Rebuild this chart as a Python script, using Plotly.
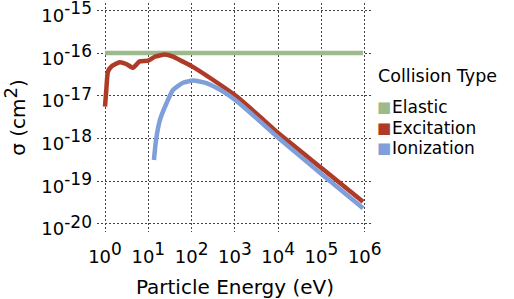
import plotly.graph_objects as go

# ---- data ----
elastic_energy = [1.0, 912000.0]
elastic_sigma = [1.02e-16, 1.02e-16]

excitation_energy = [1.0, 1.07, 1.17, 1.41, 2.19, 3.09, 4.47, 5.25, 6.31, 10.0, 14.1,
                     24.0, 37.2, 56.2, 100.0, 309.0, 1000.0, 3467.0, 10000.0,
                     100000.0, 912000.0]
excitation_sigma = [5.62e-18, 1.38e-17, 3.72e-17, 4.90e-17, 6.17e-17, 5.62e-17, 4.57e-17,
                    5.37e-17, 6.46e-17, 6.76e-17, 8.32e-17, 9.33e-17, 8.32e-17,
                    6.76e-17, 5.01e-17, 2.40e-17, 1.05e-17, 3.55e-18, 1.35e-18,
                    2.04e-19, 3.31e-20]

ionization_energy = [13.5, 15.1, 18.6, 26.3, 37.2, 63.1, 107.0, 219.0, 537.0, 1000.0,
                     3467.0, 10000.0, 100000.0, 912000.0]
ionization_sigma = [3.16e-19, 9.33e-19, 2.75e-18, 6.76e-18, 1.38e-17, 2.04e-17, 2.29e-17,
                    2.00e-17, 1.26e-17, 8.13e-18, 2.75e-18, 1.05e-18, 1.48e-19, 2.34e-20]

series_names = ["Elastic", "Excitation", "Ionization"]
series_colors = ["#9dba8c", "#ae3b27", "#7f9fda"]
legend_title = "Collision Type"

y_tickvals = [1e-20, 1e-19, 1e-18, 1e-17, 1e-16, 1e-15]
y_exponents = ["-20", "-19", "-18", "-17", "-16", "-15"]
x_tickvals = [1, 10, 100, 1000, 10000, 100000, 1000000]
x_exponents = ["0", "1", "2", "3", "4", "5", "6"]

FONT = "DejaVu Sans"
SUP = "10<sup><span style='font-size:17px'>%s</span></sup>"

W, H = 514, 299
ML, MR, MT, MB = 97, 141, 3, 67
PW, PH = W - ML - MR, H - MT - MB


def px(x):
    return (x - ML) / PW


def py(y):
    return 1 - (y - MT) / PH


fig = go.Figure()
data = [(elastic_energy, elastic_sigma), (excitation_energy, excitation_sigma),
        (ionization_energy, ionization_sigma)]
for (xs, ys), name, col in zip(data, series_names, series_colors):
    fig.add_trace(go.Scatter(x=xs, y=ys, mode="lines", name=name, showlegend=False,
                             line=dict(color=col, width=4.5, shape="spline", smoothing=0.5)))

grid = dict(showgrid=True, gridcolor="#444444", gridwidth=1, griddash="2px,2px",
            zeroline=False, showline=False, ticks="", automargin=False,
            ticklabeloverflow="allow")
fig.update_xaxes(type="log", range=[-0.185, 6.19], tickvals=x_tickvals,
                 ticktext=[SUP % e for e in x_exponents],
                 tickfont=dict(family=FONT, size=18, color="black"), ticklabelstandoff=12,
                 title=dict(text="Particle Energy (eV)", font=dict(family=FONT, size=20, color="black"),
                            standoff=18),
                 **grid)
fig.update_yaxes(type="log", range=[-20.19, -14.82], tickvals=y_tickvals,
                 ticktext=[SUP % e for e in y_exponents],
                 tickfont=dict(family=FONT, size=18, color="black"), ticklabelstandoff=4,
                 ticklabelshift=5,
                 title=dict(text="σ (cm<sup><span style='font-size:18px'>2</span></sup>)",
                            font=dict(family=FONT, size=20, color="black"),
                            standoff=12),
                 **grid)

# legend drawn as text: title, coloured squares and names
ann = [dict(text=legend_title, x=px(376), y=py(76), xref="paper", yref="paper",
            xanchor="left", yanchor="middle", showarrow=False,
            font=dict(family=FONT, size=17.5, color="black"))]
item_y = [107, 128, 148]
for name, col, yy in zip(series_names, series_colors, item_y):
    ann.append(dict(text="■", x=px(375), y=py(yy), xref="paper", yref="paper",
                    xanchor="left", yanchor="middle", showarrow=False,
                    font=dict(family=FONT, size=15, color=col)))
    ann.append(dict(text=name, x=px(390), y=py(yy), xref="paper", yref="paper",
                    xanchor="left", yanchor="middle", showarrow=False,
                    font=dict(family=FONT, size=17, color="black")))

fig.update_layout(
    width=W, height=H,
    margin=dict(l=ML, r=MR, t=MT, b=MB, autoexpand=False),
    plot_bgcolor="white", paper_bgcolor="white",
    font=dict(family=FONT, color="black"),
    showlegend=False,
    annotations=ann,
)
fig.write_html("out.html", config={"displayModeBar": False},
               post_script="document.body.style.margin='0';")
